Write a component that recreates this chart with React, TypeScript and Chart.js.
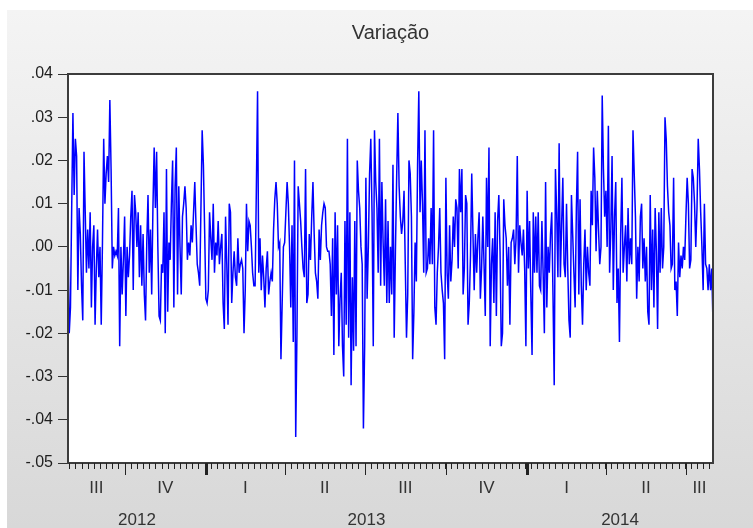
import React, { useEffect, useRef } from "react";
import { Chart, registerables } from "chart.js";

Chart.register(...registerables);

const chartTitle = "Variação";
const startDate = "2012-07-27";
const quarterLabels = ["I", "II", "III", "IV"];
const yMin = -0.05;
const yMax = 0.04;
const yStep = 0.01;

const variacaoParte1 = [
  0.003, -0.020, -0.014, 0.009, 0.031, 0.012, 0.025, 0.021, -0.010, 0.009,
  0.003, -0.009, -0.017, 0.022, 0.008, -0.006, 0.004, -0.005, 0.008, -0.014,
  0.000, 0.005, -0.018, -0.005, 0.004, -0.007, 0.000, -0.018, 0.001, 0.025,
  0.010, 0.017, 0.021, 0.015, 0.034, 0.018, -0.005, 0.000, -0.002, -0.001,
  -0.002, 0.009, -0.023, 0.000, -0.011, -0.003, 0.007, -0.016, 0.000, -0.007,
  -0.002, 0.007, 0.013, -0.010, 0.012, 0.008, 0.000, 0.008, -0.007, 0.005,
  -0.009, 0.003, -0.011, -0.017, 0.001, 0.012, -0.006, 0.004, -0.011, 0.009,
  0.023, 0.009, 0.022, 0.000, -0.016, -0.017, -0.004, -0.006, 0.008, -0.020,
  0.018, -0.015, 0.001, -0.003, 0.010, 0.020, -0.014, 0.014, 0.023, -0.011,
  0.014, 0.000, -0.011, 0.007, 0.010, 0.014, 0.009, -0.003, 0.001, -0.002,
  0.005, 0.001, 0.008, 0.015, 0.005, -0.004,
];

const variacaoParte2 = [
  -0.006, -0.009, 0.009, 0.027, 0.019, 0.004, -0.012, -0.013, -0.010, 0.008,
  0.002, -0.003, 0.010, -0.006, 0.001, -0.002, 0.006, -0.004, 0.000, 0.003,
  -0.013, -0.019, 0.007, -0.004, -0.018, 0.010, 0.008, -0.013, -0.006, -0.001,
  -0.007, -0.009, 0.002, -0.006, -0.004, -0.003, -0.005, -0.020, -0.010, 0.010,
  -0.001, 0.006, 0.005, 0.000, -0.006, -0.009, -0.009, 0.013, 0.036, -0.006,
  0.002, -0.010, -0.002, -0.007, -0.014, -0.005, -0.001, -0.011, -0.008, -0.006,
  -0.008, 0.004, 0.011, 0.015, 0.010, 0.000, 0.001, -0.026, -0.013, 0.000,
  0.001, 0.008, 0.015, 0.010, 0.000, -0.014, 0.005, -0.022, 0.020, -0.044,
  -0.020, 0.014, 0.010, 0.006, 0.000, -0.005, -0.007, 0.018, -0.013, -0.011,
  0.003, -0.003, 0.007, 0.015, 0.003, -0.006, -0.008, -0.012, 0.004, -0.003,
  0.005, 0.008, 0.010, 0.009, 0.000, -0.001,
];

const variacaoParte3 = [
  -0.001, -0.004, -0.016, 0.002, -0.025, 0.008, -0.011, 0.005, -0.023, -0.012,
  -0.006, -0.023, -0.030, 0.006, -0.018, 0.025, -0.021, 0.008, -0.032, -0.007,
  -0.024, 0.006, -0.023, 0.020, 0.013, 0.009, 0.000, -0.004, -0.042, -0.023,
  0.016, -0.012, 0.000, 0.017, 0.025, 0.008, -0.023, 0.027, 0.015, 0.009,
  -0.006, 0.025, -0.009, 0.015, 0.001, -0.009, 0.011, -0.013, 0.006, -0.013,
  0.000, -0.011, 0.019, -0.021, -0.001, 0.016, 0.031, 0.014, 0.007, 0.003,
  0.006, 0.013, -0.004, -0.021, -0.011, 0.020, 0.017, 0.007, -0.026, -0.015,
  0.001, -0.008, 0.019, 0.036, 0.008, 0.020, 0.010, -0.006, 0.027, -0.006,
  -0.005, 0.002, -0.004, 0.009, -0.004, 0.027, -0.014, -0.018, -0.006, 0.000,
  0.009, -0.006, -0.010, -0.013, -0.026, 0.016, -0.006, -0.012, 0.005, -0.008,
  -0.003, 0.007, 0.000, 0.011, 0.009, -0.005,
];

const variacaoParte4 = [
  0.018, 0.008, 0.018, -0.011, -0.005, 0.012, 0.010, -0.018, -0.013, -0.002,
  0.017, 0.003, -0.010, 0.003, -0.006, 0.002, 0.008, -0.012, -0.005, 0.007,
  -0.004, -0.016, 0.016, 0.000, 0.023, -0.023, -0.004, 0.002, -0.013, 0.008,
  -0.016, 0.006, 0.012, -0.001, -0.023, -0.020, 0.011, 0.005, 0.002, -0.009,
  0.000, -0.018, 0.001, 0.002, 0.004, -0.004, 0.002, 0.021, -0.006, 0.005,
  0.001, -0.002, 0.004, -0.005, -0.023, 0.013, -0.005, 0.006, -0.011, -0.025,
  0.008, -0.006, 0.007, -0.006, 0.008, -0.009, -0.010, 0.006, -0.006, -0.020,
  0.015, -0.014, 0.000, -0.006, 0.003, 0.008, -0.011, -0.032, 0.018, 0.008,
  -0.007, 0.024, -0.007, 0.005, 0.016, -0.004, -0.007, 0.010, -0.005, -0.017,
  -0.021, 0.012, 0.003, -0.006, -0.014, 0.009, 0.022, -0.011, 0.011, -0.009,
  -0.018, -0.004, 0.004, -0.010, 0.000, -0.006,
];

const variacaoParte5 = [
  -0.009, 0.013, 0.005, 0.023, 0.016, -0.001, 0.013, 0.004, -0.004, 0.000,
  0.035, 0.018, 0.007, 0.013, 0.000, 0.028, -0.006, 0.004, 0.021, -0.010,
  0.007, 0.015, -0.013, -0.005, -0.022, 0.003, 0.016, -0.006, 0.000, 0.005,
  -0.008, 0.009, -0.004, 0.002, -0.004, 0.027, 0.017, 0.007, -0.012, 0.000,
  -0.008, 0.007, 0.010, -0.005, 0.002, -0.008, 0.000, -0.015, -0.018, 0.012,
  -0.010, 0.004, -0.014, 0.009, -0.001, -0.019, 0.008, -0.006, 0.009, -0.005,
  0.000, 0.030, 0.025, 0.014, 0.008, 0.005, -0.005, -0.004, 0.016, -0.010,
  -0.008, -0.016, 0.001, -0.007, -0.002, -0.005, 0.000, -0.003, 0.007, 0.016,
  0.010, -0.005, -0.003, 0.018, 0.016, 0.010, 0.000, 0.009, 0.025, 0.018,
  0.008, 0.000, -0.010, 0.010, -0.004, -0.005, -0.010, -0.004, -0.010, -0.005,
  -0.018,
];

const variacao = [
  ...variacaoParte1,
  ...variacaoParte2,
  ...variacaoParte3,
  ...variacaoParte4,
  ...variacaoParte5,
];

function businessDays(start: string, n: number): Date[] {
  const out: Date[] = [];
  const d = new Date(start + "T00:00:00Z");
  while (out.length < n) {
    const wd = d.getUTCDay();
    if (wd !== 0 && wd !== 6) out.push(new Date(d.getTime()));
    d.setUTCDate(d.getUTCDate() + 1);
  }
  return out;
}

function fmtTick(v: number): string {
  const r = Math.round(v * 100) / 100;
  if (r === 0) return ".00";
  const s = Math.abs(r).toFixed(2).replace(/^0/, "");
  return (r < 0 ? "-" : "") + s;
}

const W = 753;
const H = 528;
const FONT = "'Liberation Sans', Arial, sans-serif";

export default function App() {
  const ref = useRef<HTMLCanvasElement>(null);

  useEffect(() => {
    document.body.style.margin = "0";
    const dates = businessDays(startDate, variacao.length);
    const labels = dates.map((d) => d.toISOString().slice(0, 10));

    const bgPlugin = {
      id: "evBackground",
      beforeDraw(chart: any) {
        const { ctx, width, height, chartArea: a } = chart;
        ctx.save();
        ctx.fillStyle = "#ffffff";
        ctx.fillRect(0, 0, width, height);
        const g = ctx.createLinearGradient(0, 10, 0, height);
        g.addColorStop(0, "#f4f4f4");
        g.addColorStop(1, "#d8d8d8");
        ctx.fillStyle = g;
        ctx.fillRect(7, 10, width - 7, height - 10);
        ctx.fillStyle = "#ffffff";
        ctx.fillRect(a.left, a.top, a.right - a.left, a.bottom - a.top);
        ctx.restore();
      },
    };

    const axisPlugin = {
      id: "evAxis",
      afterDraw(chart: any) {
        const { ctx, chartArea: a } = chart;
        const xs = chart.scales.x;
        ctx.save();
        ctx.strokeStyle = "#3c3c3c";
        ctx.lineWidth = 2;
        ctx.strokeRect(a.left, a.top, a.right - a.left, a.bottom - a.top);

        // title centred over the plot area
        ctx.fillStyle = "#333333";
        ctx.textAlign = "center";
        ctx.textBaseline = "middle";
        ctx.font = "20px " + FONT;
        ctx.fillText(chartTitle, (a.left + a.right) / 2, 33);

        const qBounds: number[] = [];
        const yBounds: number[] = [];
        ctx.strokeStyle = "#222222";
        for (let i = 1; i < dates.length; i++) {
          const d = dates[i];
          const p = dates[i - 1];
          const x = Math.round(xs.getPixelForValue(i)) + 0.5;
          const newWeek = d.getUTCDay() < p.getUTCDay();
          const newQuarter =
            Math.floor(d.getUTCMonth() / 3) !== Math.floor(p.getUTCMonth() / 3);
          const newYear = d.getUTCFullYear() !== p.getUTCFullYear();
          if (newQuarter) qBounds.push(i);
          if (newYear) yBounds.push(i);
          let len = 0;
          if (newQuarter) len = 12;
          else if (newWeek) len = 6;
          if (len) {
            ctx.lineWidth = newYear ? 3 : 1;
            ctx.beginPath();
            ctx.moveTo(x, a.bottom);
            ctx.lineTo(x, a.bottom + len);
            ctx.stroke();
          }
        }

        ctx.fillStyle = "#333333";
        ctx.font = "17px " + FONT;
        const qStarts = [0, ...qBounds];
        for (let k = 0; k < qStarts.length; k++) {
          const x0 = k === 0 ? a.left : xs.getPixelForValue(qStarts[k]);
          const x1 =
            k === qStarts.length - 1 ? a.right : xs.getPixelForValue(qStarts[k + 1]);
          const q = Math.floor(dates[qStarts[k]].getUTCMonth() / 3);
          ctx.fillText(quarterLabels[q], (x0 + x1) / 2, a.bottom + 25);
        }
        const yStarts = [0, ...yBounds];
        for (let k = 0; k < yStarts.length; k++) {
          const x0 = k === 0 ? a.left : xs.getPixelForValue(yStarts[k]);
          const x1 =
            k === yStarts.length - 1 ? a.right : xs.getPixelForValue(yStarts[k + 1]);
          const yr = dates[yStarts[k]].getUTCFullYear();
          ctx.fillText(String(yr), (x0 + x1) / 2, a.bottom + 57);
        }
        ctx.restore();
      },
    };

    const chart = new Chart(ref.current as HTMLCanvasElement, {
      type: "line",
      data: {
        labels,
        datasets: [
          {
            data: variacao,
            borderColor: "#0000ff",
            borderWidth: 1.5,
            pointRadius: 0,
            tension: 0,
            fill: false,
          },
        ],
      },
      options: {
        animation: false,
        responsive: false,
        layout: { padding: { left: 0, right: 40, top: 74, bottom: 0 } },
        plugins: {
          legend: { display: false },
          tooltip: { enabled: false },
          title: { display: false },
        },
        scales: {
          x: {
            type: "category",
            grid: { display: false },
            border: { display: false },
            ticks: { display: false },
            afterFit(s: any) {
              s.height = 65;
            },
          },
          y: {
            min: yMin,
            max: yMax,
            ticks: {
              stepSize: yStep,
              callback: (v: any) => fmtTick(Number(v)),
              color: "#1e1e1e",
              font: { family: FONT, size: 16 },
              padding: 5,
            },
            grid: {
              drawOnChartArea: false,
              drawTicks: true,
              tickLength: 10,
              color: "#333333",
              lineWidth: 1,
            },
            border: { display: false },
            afterFit(s: any) {
              s.width = 68;
            },
          },
        },
      } as any,
      plugins: [bgPlugin, axisPlugin],
    });
    return () => chart.destroy();
  }, []);

  return (
    <div style={{ position: "absolute", left: 0, top: 0, width: W, height: H }}>
      <canvas ref={ref} width={W} height={H} style={{ display: "block" }} />
    </div>
  );
}
